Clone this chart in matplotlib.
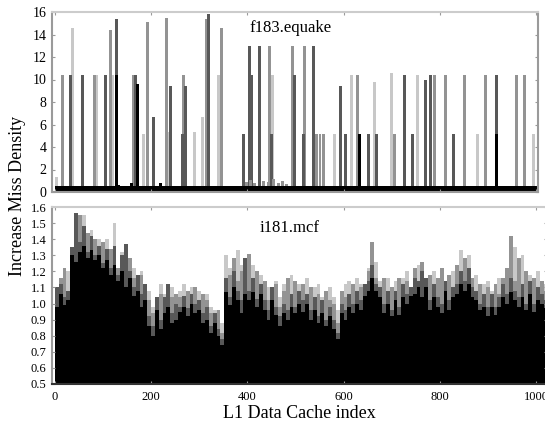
import numpy as np
import matplotlib
matplotlib.use("Agg")
import matplotlib.pyplot as plt

plt.rcParams["font.family"] = ["Liberation Serif", "DejaVu Serif"]

# ── f183.equake : sparse spikes per series (cache index, miss density) ───────
eq_mid_x = [12, 79, 112, 160, 189, 229, 264, 312, 343, 443, 491, 516, 540, 548, 556,
            626, 703, 786, 809, 848, 892, 956, 973]
eq_mid_h = [10.4, 10.4, 14.4, 10.4, 15.1, 15.5, 10.4, 15.4, 14.6, 13.0, 13.0, 13.0, 5.2, 5.2, 5.2,
            10.4, 5.2, 10.4, 10.4, 10.4, 10.4, 10.4, 10.4]
eq_dark_x = [29, 54, 102, 125, 164, 202, 237, 262, 268, 316, 389, 401, 406, 422, 447, 495,
             514, 534, 590, 601, 649, 665, 723, 740, 767, 778, 825, 915]
eq_dark_h = [10.4, 10.4, 10.4, 15.4, 10.4, 6.7, 9.4, 5.2, 9.4, 15.8, 5.2, 13.0, 10.4, 13.0, 5.2, 10.4,
             5.2, 13.0, 9.4, 5.2, 5.2, 5.2, 10.4, 5.2, 10.0, 10.4, 5.2, 10.4]
eq_light_x = [0, 33, 84, 116, 181, 233, 287, 304, 337, 450, 496, 578, 613, 661, 697, 751, 875, 992]
eq_light_h = [1.3, 14.6, 10.4, 10.4, 5.2, 5.3, 5.3, 6.7, 10.4, 10.4, 5.2, 5.2, 10.4, 9.8, 10.6, 10.4, 5.2, 5.2]
eq_black_x = [125, 168, 157, 217, 630, 915]
eq_black_h = [10.4, 9.6, 0.8, 0.8, 5.2, 5.2]
eq_base = [0.55, 0.55, 0.55, 0.55, 0.55, 0.55, 0.55, 0.55, 0.55, 0.55, 0.55, 0.55, 0.55, 0.55, 0.55, 0.55,
           0.60, 0.55, 0.55, 0.55, 0.55, 0.55, 0.55, 0.55, 0.55, 0.55, 0.55, 0.55, 0.55, 0.55, 0.55, 0.55,
           0.55, 0.55, 0.55, 0.55, 0.55, 0.55, 0.55, 0.55, 0.55, 0.55, 0.55, 0.55, 0.55, 0.55, 0.55, 0.55,
           0.55, 0.55, 0.55, 0.55, 0.55, 0.55, 0.55, 0.55, 0.55, 0.55, 0.55, 0.55, 0.55, 0.55, 0.55, 0.55,
           0.55, 0.55, 0.55, 0.55, 0.55, 0.55, 0.55, 0.55, 0.55, 0.55, 0.55, 0.55, 0.55, 0.55, 0.55, 0.55,
           0.55, 0.55, 0.55, 0.55, 0.55, 0.55, 0.55, 0.55, 0.55, 0.55, 0.55, 0.55, 0.55, 0.55, 0.55, 0.55,
           0.55, 0.55, 0.55, 0.55, 0.55, 0.55, 0.55, 0.55, 0.55, 0.55, 0.55, 0.55, 0.55, 0.55, 0.55, 0.55,
           0.55, 0.55, 0.55, 0.55, 0.55, 0.55, 0.55, 0.55, 0.55, 0.55, 0.55, 0.55, 0.55, 0.55]
eq_small_x = [395, 404, 412, 430, 440, 452, 462, 470, 478]
eq_small_h = [0.9, 1.1, 0.8, 1.0, 0.9, 1.2, 0.8, 1.0, 0.7]

# ── i181.mcf : 128 bins of 8 sets each ───────────────────────────────────────
mcf_black = [0.98, 1.06, 0.99, 1.02, 1.30, 1.26, 1.32, 1.36, 1.28, 1.33, 1.27, 1.30, 1.22, 1.27, 1.18, 1.24,
             1.14, 1.20, 1.10, 1.16, 1.05, 1.08, 0.98, 1.02, 0.86, 0.80, 0.96, 0.84, 0.94, 0.98, 0.88, 0.90,
             0.95, 0.98, 0.92, 1.00, 0.94, 0.96, 0.88, 0.90, 0.82, 0.88, 0.80, 0.74, 1.07, 0.99, 1.10, 1.02,
             0.94, 1.06, 1.02, 1.07, 0.98, 1.06, 0.96, 0.90, 1.02, 0.93, 0.86, 0.94, 0.90, 0.98, 0.94, 1.00,
             0.95, 1.00, 0.90, 0.96, 0.88, 0.94, 0.86, 0.92, 0.84, 0.78, 0.94, 0.90, 0.98, 0.94, 1.00, 0.96,
             1.05, 1.08, 1.16, 1.08, 1.04, 0.94, 1.00, 0.92, 1.02, 0.93, 1.04, 1.00, 1.05, 1.06, 1.10, 1.04,
             1.10, 0.96, 1.04, 0.98, 0.94, 1.08, 0.96, 1.04, 1.06, 1.12, 1.08, 1.12, 1.04, 1.02, 0.96, 0.98,
             0.92, 0.98, 0.93, 0.98, 1.04, 1.00, 1.07, 1.02, 0.98, 1.04, 0.96, 1.06, 0.95, 1.02, 1.00, 0.97]
mcf_dark = [1.10, 1.12, 1.04, 1.08, 1.35, 1.56, 1.38, 1.48, 1.32, 1.42, 1.30, 1.36, 1.25, 1.34, 1.22, 1.36,
            1.18, 1.30, 1.37, 1.20, 1.10, 1.18, 1.06, 1.12, 0.92, 0.86, 1.04, 0.90, 1.04, 1.12, 0.94, 1.00,
            0.98, 1.05, 0.97, 1.06, 1.00, 1.02, 0.94, 0.98, 0.86, 0.94, 0.84, 0.78, 1.16, 1.04, 1.20, 1.08,
            1.02, 1.28, 1.08, 1.16, 1.03, 1.12, 1.02, 0.96, 1.10, 0.98, 0.92, 1.00, 0.96, 1.06, 0.98, 1.08,
            1.02, 1.06, 0.96, 1.04, 0.92, 1.02, 0.90, 0.98, 0.90, 0.82, 1.00, 0.96, 1.06, 1.00, 1.08, 1.02,
            1.12, 1.14, 1.24, 1.12, 1.10, 1.00, 1.08, 0.96, 1.08, 0.98, 1.12, 1.06, 1.10, 1.16, 1.14, 1.20,
            1.16, 1.02, 1.12, 1.04, 1.00, 1.14, 1.02, 1.10, 1.12, 1.20, 1.14, 1.22, 1.10, 1.08, 1.00, 1.06,
            0.98, 1.06, 0.98, 1.04, 1.12, 1.06, 1.16, 1.08, 1.04, 1.12, 1.00, 1.14, 1.00, 1.10, 1.06, 1.02]
mcf_mid = [1.06, 1.16, 1.22, 1.02, 1.28, 1.44, 1.55, 1.40, 1.44, 1.32, 1.40, 1.26, 1.38, 1.24, 1.34, 1.28,
           1.22, 1.18, 1.24, 1.28, 1.16, 1.10, 1.18, 1.06, 1.02, 0.94, 0.98, 1.06, 0.98, 1.10, 1.04, 1.06,
           1.04, 0.98, 1.08, 1.02, 1.10, 0.98, 1.06, 1.02, 0.94, 0.90, 0.96, 0.82, 1.10, 1.18, 1.28, 1.14,
           1.20, 1.16, 1.31, 1.10, 1.20, 1.06, 1.14, 1.02, 1.08, 1.12, 0.98, 1.08, 1.16, 1.02, 1.14, 1.04,
           1.12, 0.98, 1.10, 1.00, 1.06, 0.96, 1.08, 1.02, 1.00, 0.88, 1.08, 1.04, 1.00, 1.12, 1.04, 1.10,
           1.08, 1.20, 1.38, 1.16, 1.06, 1.16, 1.04, 1.10, 1.00, 1.16, 1.06, 1.14, 1.08, 1.22, 1.10, 1.26,
           1.08, 1.18, 1.04, 1.16, 1.22, 1.06, 1.18, 1.08, 1.24, 1.14, 1.28, 1.10, 1.16, 1.02, 1.12, 1.04,
           1.10, 1.02, 1.12, 1.06, 1.16, 1.22, 1.42, 1.14, 1.28, 1.08, 1.20, 1.04, 1.16, 1.06, 1.14, 1.08]
mcf_light = [1.02, 1.08, 1.14, 1.20, 1.24, 1.40, 1.48, 1.55, 1.36, 1.46, 1.34, 1.40, 1.28, 1.40, 1.30, 1.50,
             1.20, 1.32, 1.22, 1.26, 1.22, 1.14, 1.20, 1.10, 1.08, 0.98, 1.00, 1.12, 1.06, 1.02, 1.10, 1.04,
             1.08, 1.12, 1.02, 1.10, 1.06, 1.08, 1.00, 1.06, 0.98, 0.96, 0.90, 0.88, 1.30, 1.22, 1.16, 1.33,
             1.24, 1.20, 1.14, 1.24, 1.12, 1.18, 1.08, 1.10, 1.04, 1.14, 1.04, 1.12, 1.06, 1.18, 1.08, 1.12,
             1.04, 1.16, 1.04, 1.10, 1.12, 1.04, 1.02, 1.10, 1.04, 0.96, 1.04, 1.12, 1.14, 1.04, 1.16, 1.12,
             1.04, 1.22, 1.20, 1.26, 1.14, 1.06, 1.16, 1.02, 1.14, 1.06, 1.16, 1.20, 1.04, 1.14, 1.24, 1.18,
             1.12, 1.08, 1.20, 1.10, 1.18, 1.12, 1.10, 1.20, 1.18, 1.33, 1.22, 1.30, 1.12, 1.18, 1.06, 1.12,
             1.14, 1.08, 1.04, 1.16, 1.10, 1.20, 1.14, 1.35, 1.20, 1.30, 1.10, 1.18, 1.08, 1.20, 1.04, 1.12]
mcf_bin = 8

C_LIGHT, C_MID, C_DARK, C_BLACK = "#c8c8c8", "#939393", "#585858", "#000000"
SPINE = "#9a9a9a"

fig = plt.figure(figsize=(5.45, 4.25), dpi=100)
ax1 = fig.add_axes([52 / 545, 233 / 425, 486 / 545, 180 / 425])
ax2 = fig.add_axes([52 / 545, 41 / 425, 495.5 / 545, 177 / 425])

# top panel
w = 6
ax1.bar(eq_light_x, eq_light_h, width=w, color=C_LIGHT, align="edge", linewidth=0)
ax1.bar(eq_mid_x, eq_mid_h, width=w, color=C_MID, align="edge", linewidth=0)
ax1.bar(eq_dark_x, eq_dark_h, width=w, color=C_DARK, align="edge", linewidth=0)
ax1.bar(eq_small_x, eq_small_h, width=w, color=C_MID, align="edge", linewidth=0)
ax1.bar(eq_black_x, eq_black_h, width=w, color=C_BLACK, align="edge", linewidth=0)
ax1.bar(np.arange(len(eq_base)) * mcf_bin, eq_base, width=mcf_bin, color=C_BLACK, align="edge", linewidth=0)
ax1.set_xlim(-6, 1004)
ax1.set_ylim(0, 16)
ax1.set_yticks(range(0, 17, 2))
ax1.set_xticks([0, 200, 400, 600, 800, 1000])
ax1.set_xticklabels([])
ax1.text(0.49, 0.91, "f183.equake", transform=ax1.transAxes, ha="center", va="center", fontsize=12)

# bottom panel
xb = np.arange(len(mcf_black)) * mcf_bin
ax2.bar(xb, mcf_light, width=mcf_bin, color=C_LIGHT, align="edge", linewidth=0)
ax2.bar(xb, mcf_mid, width=mcf_bin, color=C_MID, align="edge", linewidth=0)
ax2.bar(xb, mcf_dark, width=mcf_bin, color=C_DARK, align="edge", linewidth=0)
ax2.bar(xb, mcf_black, width=mcf_bin, color=C_BLACK, align="edge", linewidth=0)
ax2.set_xlim(-6, 1024)
ax2.set_ylim(0.5, 1.6)
ax2.set_yticks(np.arange(0.5, 1.61, 0.1))
ax2.set_yticklabels([f"{v:.1f}" for v in np.arange(0.5, 1.61, 0.1)])
ax2.set_xticks([0, 200, 400, 600, 800, 1000])
ax2.text(0.48, 0.88, "i181.mcf", transform=ax2.transAxes, ha="center", va="center", fontsize=12)

for ax, fs in ((ax1, 10), (ax2, 9)):
    for s in ax.spines.values():
        s.set_color(SPINE)
        s.set_linewidth(1.5)
    ax.spines["top"].set_color("#cccccc")
    ax.tick_params(axis="both", direction="in", length=2, color=SPINE, labelsize=fs, pad=4,
                   top=True, right=True)
ax2.spines["bottom"].set_color("#333333")
ax2.tick_params(axis="x", labelsize=9, pad=5)

fig.text(0.033, 0.54, "Increase Miss Density", rotation=90, ha="center", va="center", fontsize=13)
fig.text(0.55, 0.028, "L1 Data Cache index", ha="center", va="center", fontsize=13)

plt.savefig("out.png", dpi=100)
plt.close()
